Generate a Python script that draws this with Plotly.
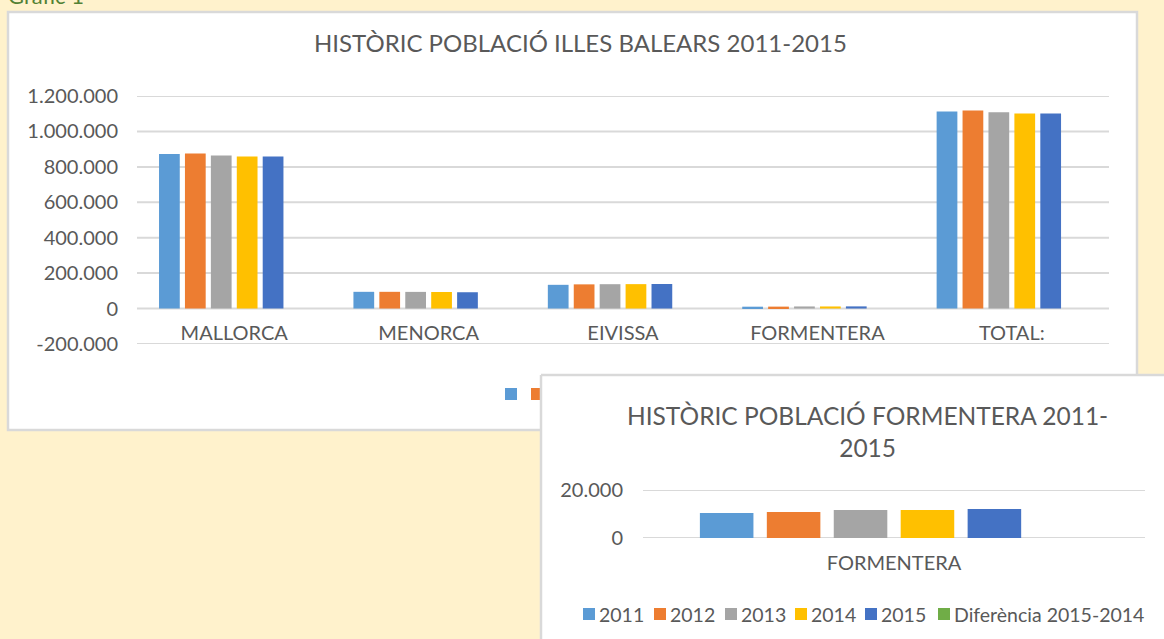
import plotly.graph_objects as go

# ---------------- data ----------------
categories = ["MALLORCA", "MENORCA", "EIVISSA", "FORMENTERA", "TOTAL:"]
series_names = ["2011", "2012", "2013", "2014", "2015", "Diferència 2015-2014"]

pop_2011 = [873400, 94400, 133900, 10400, 1112100]
pop_2012 = [876100, 94400, 136500, 10800, 1117800]
pop_2013 = [864800, 94000, 137500, 11700, 1108000]
pop_2014 = [858300, 93400, 137800, 11700, 1101200]
pop_2015 = [859300, 92000, 138600, 12100, 1102000]
dif_2015_2014 = [0, 0, 0, 0, 0]   # bars not visible in the picture

form_category = ["FORMENTERA"]
form_values = [10400, 10800, 11700, 11700, 12100, 0]

main_tickvals = [-200000, 0, 200000, 400000, 600000, 800000, 1000000, 1200000]
main_ticktext = ["-200.000", "0", "200.000", "400.000", "600.000", "800.000", "1.000.000", "1.200.000"]
form_tickvals = [0, 20000]
form_ticktext = ["0", "20.000"]

main_title = "HISTÒRIC POBLACIÓ ILLES BALEARS 2011-2015"
form_title = "HISTÒRIC POBLACIÓ FORMENTERA 2011-<br>2015"
page_caption = "Gràfic 1"

colors = ["#5B9BD5", "#ED7D31", "#A5A5A5", "#FFC000", "#4472C4", "#70AD47"]

# ---------------- layout helpers ----------------
W, H = 1164, 639
FONT = "Lato"
TXT = "#595959"
GRID = "#D9D9D9"


def px(x):
    return x / W


def py(y):
    return 1 - y / H


main_series = [pop_2011, pop_2012, pop_2013, pop_2014, pop_2015, dif_2015_2014]

fig = go.Figure()
for name, vals, col in zip(series_names, main_series, colors):
    fig.add_trace(go.Bar(x=categories, y=vals, name=name, marker_color=col,
                         marker_line_width=0, xaxis="x", yaxis="y", showlegend=False))
for name, val, col in zip(series_names, form_values, colors):
    fig.add_trace(go.Bar(x=form_category, y=[val], name=name, marker_color=col,
                         marker_line_width=0, xaxis="x2", yaxis="y2", showlegend=False))

shapes = []
# main chart box
shapes.append(dict(type="rect", xref="paper", yref="paper", x0=px(8), x1=px(1137), y0=py(430), y1=py(12),
                   fillcolor="white", line=dict(color=GRID, width=2.5), layer="below"))
# main chart legend squares (no labels)
for i, col in enumerate(colors):
    x0 = 505 + 26 * i
    shapes.append(dict(type="rect", xref="paper", yref="paper", x0=px(x0), x1=px(x0 + 12),
                       y0=py(400), y1=py(388), fillcolor=col, line=dict(width=0), layer="below"))
# second chart box (overlapping, running past the right and bottom edges)
shapes.append(dict(type="rect", xref="paper", yref="paper", x0=px(541), x1=1, y0=0, y1=py(375),
                   fillcolor="white", line=dict(width=0), layer="below"))
shapes.append(dict(type="line", xref="paper", yref="paper", x0=px(541), x1=1, y0=py(375), y1=py(375),
                   line=dict(color=GRID, width=2.5), layer="below"))
shapes.append(dict(type="line", xref="paper", yref="paper", x0=px(541), x1=px(541), y0=0, y1=py(375),
                   line=dict(color=GRID, width=2.5), layer="below"))

# horizontal gridlines, placed through the axes
for v in main_tickvals:
    shapes.append(dict(type="line", xref="x domain", yref="y", x0=0, x1=1, y0=v, y1=v,
                       line=dict(color=GRID, width=2), layer="below"))
for v in form_tickvals:
    shapes.append(dict(type="line", xref="x2 domain", yref="y2", x0=0, x1=1, y0=v, y1=v,
                       line=dict(color=GRID, width=2), layer="below"))

annotations = []
annotations.append(dict(text=page_caption, xref="paper", yref="paper", x=px(6), y=py(11),
                        xanchor="left", yanchor="bottom", showarrow=False,
                        font=dict(family=FONT, size=22, color="#538135")))
annotations.append(dict(text=main_title, xref="paper", yref="paper", x=px(580), y=py(43),
                        xanchor="center", yanchor="middle", showarrow=False,
                        font=dict(family=FONT, size=24, color=TXT)))
annotations.append(dict(text=form_title, xref="paper", yref="paper", x=px(867), y=py(431),
                        xanchor="center", yanchor="middle", showarrow=False,
                        font=dict(family=FONT, size=24.5, color=TXT)))

# legend of the second chart
legend_x = [583, 654, 725, 795, 865, 938]
for lx, name, col in zip(legend_x, series_names, colors):
    shapes.append(dict(type="rect", xref="paper", yref="paper", x0=px(lx), x1=px(lx + 12),
                       y0=py(620), y1=py(608), fillcolor=col, line=dict(width=0), layer="above"))
    annotations.append(dict(text=name, xref="paper", yref="paper", x=px(lx + 14), y=py(614),
                            xanchor="left", yanchor="middle", showarrow=False,
                            font=dict(family=FONT, size=19.5, color=TXT)))

fig.update_layout(
    width=W, height=H,
    margin=dict(l=0, r=0, t=0, b=0, pad=0, autoexpand=False),
    paper_bgcolor="#FFF2CC",
    plot_bgcolor="rgba(0,0,0,0)",
    barmode="group", bargap=0.2, bargroupgap=0.2,
    font=dict(family=FONT, color=TXT),
    shapes=shapes,
    annotations=annotations,
    xaxis=dict(domain=[px(137), px(1109)], range=[-0.5, 4.5], anchor="free", position=py(319),
               automargin=False, showgrid=False, showline=False, zeroline=False, ticks="",
               tickfont=dict(family=FONT, size=20, color=TXT)),
    yaxis=dict(domain=[py(344), py(96)], range=[-200300, 1200300], anchor="x", automargin=False,
               tickvals=main_tickvals, ticktext=main_ticktext,
               showgrid=False, zeroline=False, showline=False, ticks="",
               ticklabelstandoff=18, tickfont=dict(family=FONT, size=20, color=TXT)),
    xaxis2=dict(domain=[px(643), px(1145)], range=[-0.5, 0.5], anchor="y2", automargin=False,
                showgrid=False, showline=False, zeroline=False, ticks="", ticklabelstandoff=11,
                tickfont=dict(family=FONT, size=20, color=TXT)),
    yaxis2=dict(domain=[py(538), py(490)], range=[-30, 20030], anchor="x2", automargin=False,
                tickvals=form_tickvals, ticktext=form_ticktext,
                showgrid=False, zeroline=False, showline=False, ticks="",
                ticklabelstandoff=19, tickfont=dict(family=FONT, size=20, color=TXT)),
)

fig.write_html("out.html", config={"displayModeBar": False},
               post_script="document.body.style.margin='0px';document.body.style.overflow='hidden';")
